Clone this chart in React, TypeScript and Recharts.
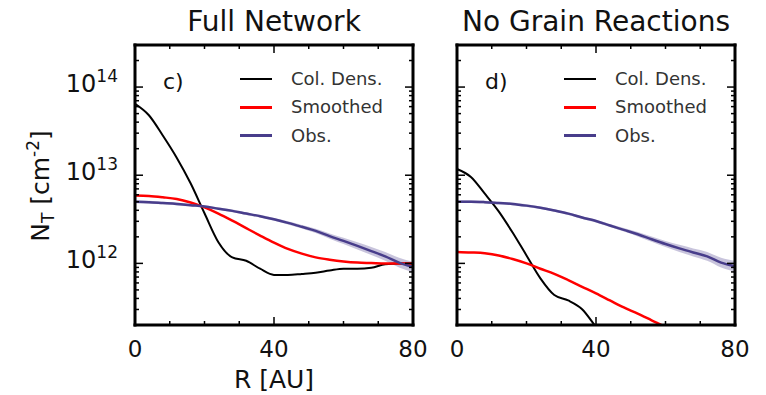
import React from 'react';
import { ComposedChart, Line, Area, XAxis, YAxis, Legend } from 'recharts';

// radius grid in AU, shared by all curves
const radius = [0, 4, 8, 12, 16, 20, 24, 28, 32, 36, 40, 44, 48, 52, 56, 60, 64, 68, 72, 76, 80];

// c) Full Network, column density in cm^-2
const fullColDens = [6.46e13, 4.79e13, 2.82e13, 1.58e13, 8.1e12, 3.7e12, 1.74e12, 1.17e12, 1.07e12, 8.7e11, 7.4e11, 7.4e11, 7.6e11, 7.85e11, 8.3e11, 8.7e11, 8.7e11, 8.9e11, 9.8e11, 1.0e12, 1.0e12];
const fullSmoothed = [5.89e12, 5.82e12, 5.62e12, 5.37e12, 4.9e12, 4.31e12, 3.67e12, 3.05e12, 2.51e12, 2.07e12, 1.72e12, 1.46e12, 1.29e12, 1.17e12, 1.1e12, 1.05e12, 1.02e12, 1.01e12, 1.0e12, 1.0e12, 1.0e12];
const fullObs = [5.01e12, 4.95e12, 4.84e12, 4.73e12, 4.57e12, 4.42e12, 4.17e12, 3.94e12, 3.67e12, 3.43e12, 3.16e12, 2.88e12, 2.6e12, 2.34e12, 2.04e12, 1.8e12, 1.58e12, 1.38e12, 1.2e12, 1.02e12, 9.1e11];
// half width of the shaded obs band, in dex
const fullObsErr = [0.015, 0.015, 0.015, 0.015, 0.015, 0.015, 0.015, 0.015, 0.015, 0.015, 0.015, 0.018, 0.02, 0.025, 0.03, 0.035, 0.04, 0.045, 0.05, 0.055, 0.06];

// d) No Grain Reactions
const noGrainColDens = [1.175e13, 9.55e12, 6.17e12, 3.89e12, 2.24e12, 1.23e12, 6.76e11, 4.37e11, 3.8e11, 3.02e11, 1.9e11, 1.2e11, null, null, null, null, null, null, null, null, null];
const noGrainSmoothed = [1.35e12, 1.33e12, 1.3e12, 1.23e12, 1.12e12, 1.0e12, 8.7e11, 7.6e11, 6.46e11, 5.43e11, 4.57e11, 3.8e11, 3.16e11, 2.69e11, 2.26e11, 1.9e11, 1.58e11, null, null, null, null];
const noGrainObs = [5.01e12, 5.01e12, 4.95e12, 4.84e12, 4.73e12, 4.52e12, 4.27e12, 3.98e12, 3.67e12, 3.31e12, 3.02e12, 2.69e12, 2.4e12, 2.14e12, 1.88e12, 1.66e12, 1.48e12, 1.33e12, 1.2e12, 1.02e12, 9.3e11];
const noGrainObsErr = [0.015, 0.015, 0.015, 0.015, 0.015, 0.015, 0.015, 0.015, 0.015, 0.015, 0.015, 0.018, 0.02, 0.025, 0.03, 0.035, 0.04, 0.045, 0.05, 0.055, 0.06];

const seriesNames = ['Col. Dens.', 'Smoothed', 'Obs.'];
const xTicks = [0, 10, 20, 30, 40, 50, 60, 70, 80];
const xLabels = [0, 40, 80];
const yDecades = [11, 12, 13, 14];
const yDomain = [2e11, 3e14];

const FONT = '"DejaVu Sans", sans-serif';
const BLUE = '#483d8b';

// log minor ticks 2..9 of every decade inside the domain
const yTicks: number[] = [];
yDecades.forEach((d) => {
  for (let m = 1; m <= 9; m++) {
    const v = m * Math.pow(10, d);
    if (v >= yDomain[0] && v <= yDomain[1]) yTicks.push(v);
  }
});

const isDecade = (v: number) => {
  const l = Math.log10(v);
  return Math.abs(l - Math.round(l)) < 1e-6;
};

const buildRows = (colDens: (number | null)[], smoothed: (number | null)[], obs: number[], err: number[]) =>
  radius.map((r, i) => ({
    r,
    colDens: colDens[i],
    smoothed: smoothed[i],
    obs: obs[i],
    band: [obs[i] / Math.pow(10, err[i]), obs[i] * Math.pow(10, err[i])],
  }));

const fullRows = buildRows(fullColDens, fullSmoothed, fullObs, fullObsErr);
const noGrainRows = buildRows(noGrainColDens, noGrainSmoothed, noGrainObs, noGrainObsErr);

const frame = { stroke: '#000', strokeWidth: 3, strokeLinecap: 'square' as const };

function BottomTick(props: any) {
  const { x, y, payload } = props;
  const major = xLabels.includes(payload.value);
  return (
    <g>
      <line x1={x} x2={x} y1={y} y2={y - (major ? 8 : 4)} stroke="#000" strokeWidth={1.5} />
      {major && (
        <text x={x} y={y + 32} textAnchor="middle" fontSize={23} fontFamily={FONT} fill="#111">
          {payload.value}
        </text>
      )}
    </g>
  );
}

function TopTick(props: any) {
  const { x, y, payload } = props;
  const major = xLabels.includes(payload.value);
  return <line x1={x} x2={x} y1={y} y2={y + (major ? 8 : 4)} stroke="#000" strokeWidth={1.5} />;
}

function LeftTick(props: any) {
  const { x, y, payload, showLabel } = props;
  const major = isDecade(payload.value);
  return (
    <g>
      <line x1={x} x2={x + (major ? 8 : 4)} y1={y} y2={y} stroke="#000" strokeWidth={1.5} />
      {showLabel && major && (
        <text x={x - 17} y={y + 5} textAnchor="end" fontSize={24} fontFamily={FONT} fill="#111">
          10
          <tspan dy={-10} fontSize={17}>
            {Math.round(Math.log10(payload.value))}
          </tspan>
        </text>
      )}
    </g>
  );
}

function RightTick(props: any) {
  const { x, y, payload } = props;
  const major = isDecade(payload.value);
  return <line x1={x} x2={x - (major ? 8 : 4)} y1={y} y2={y} stroke="#000" strokeWidth={1.5} />;
}

function renderLegend(props: any) {
  const items = (props.payload || [])
    .filter((p: any) => p.type !== 'none' && seriesNames.includes(p.value))
    .sort((a: any, b: any) => seriesNames.indexOf(a.value) - seriesNames.indexOf(b.value));
  return (
    <div>
      {items.map((p: any) => (
        <div key={p.value} style={{ display: 'flex', alignItems: 'center', height: 28.3 }}>
          <span style={{ display: 'inline-block', width: 32, height: 2.5, background: p.color, marginRight: 19 }} />
          <span style={{ fontFamily: FONT, fontSize: 18, color: '#333', lineHeight: '28px' }}>{p.value}</span>
        </div>
      ))}
    </div>
  );
}

interface PanelProps {
  left: number;
  width: number;
  marginLeft: number;
  marginRight: number;
  yAxisWidth: number;
  rows: any[];
  showYLabels: boolean;
  legendLeft: number;
}

function Panel({ left, width, marginLeft, marginRight, yAxisWidth, rows, showYLabels, legendLeft }: PanelProps) {
  return (
    <div style={{ position: 'absolute', left, top: 0 }}>
      <ComposedChart
        width={width}
        height={395}
        data={rows}
        margin={{ top: 35, bottom: 40, left: marginLeft, right: marginRight }}
      >
        <XAxis
          xAxisId="b"
          dataKey="r"
          type="number"
          domain={[0, 80]}
          ticks={xTicks}
          interval={0}
          height={30}
          tickSize={0}
          tickMargin={0}
          axisLine={frame}
          tickLine={false}
          tick={(p: any) => <BottomTick {...p} />}
          allowDataOverflow
        />
        <XAxis
          xAxisId="t"
          orientation="top"
          dataKey="r"
          type="number"
          domain={[0, 80]}
          ticks={xTicks}
          interval={0}
          height={10}
          tickSize={0}
          tickMargin={0}
          axisLine={frame}
          tickLine={false}
          tick={(p: any) => <TopTick {...p} />}
          allowDataOverflow
        />
        <YAxis
          yAxisId="l"
          type="number"
          scale="log"
          domain={yDomain}
          ticks={yTicks}
          interval={0}
          width={yAxisWidth}
          tickSize={0}
          tickMargin={0}
          axisLine={frame}
          tickLine={false}
          tick={(p: any) => <LeftTick {...p} showLabel={showYLabels} />}
          allowDataOverflow
        />
        <YAxis
          yAxisId="r"
          orientation="right"
          type="number"
          scale="log"
          domain={yDomain}
          ticks={yTicks}
          interval={0}
          width={10}
          tickSize={0}
          tickMargin={0}
          axisLine={frame}
          tickLine={false}
          tick={(p: any) => <RightTick {...p} />}
          allowDataOverflow
        />
        <Area
          xAxisId="b"
          yAxisId="l"
          dataKey="band"
          type="monotone"
          stroke="none"
          fill={BLUE}
          fillOpacity={0.3}
          legendType="none"
          isAnimationActive={false}
        />
        <Line xAxisId="b" yAxisId="l" dataKey="colDens" name={seriesNames[0]} type="monotone" stroke="#000" strokeWidth={2} dot={false} isAnimationActive={false} />
        <Line xAxisId="b" yAxisId="l" dataKey="smoothed" name={seriesNames[1]} type="monotone" stroke="#ff0000" strokeWidth={2.5} dot={false} isAnimationActive={false} />
        <Line xAxisId="b" yAxisId="l" dataKey="obs" name={seriesNames[2]} type="monotone" stroke={BLUE} strokeWidth={2.5} dot={false} isAnimationActive={false} />
        <Legend
          layout="horizontal"
          verticalAlign="middle"
          align="center"
          content={renderLegend}
          wrapperStyle={{ left: legendLeft, top: 65, width: 170, height: 90 }}
        />
      </ComposedChart>
    </div>
  );
}

export default function App() {
  return (
    <div style={{ position: 'absolute', left: 0, top: 0, width: 766, height: 395, background: '#fff' }}>
      <Panel left={0} width={430} marginLeft={75} marginRight={7} yAxisWidth={60} rows={fullRows} showYLabels legendLeft={240} />
      <Panel left={430} width={336} marginLeft={17} marginRight={21} yAxisWidth={10} rows={noGrainRows} showYLabels={false} legendLeft={134} />
      <svg width={766} height={395} style={{ position: 'absolute', left: 0, top: 0, pointerEvents: 'none' }}>
        <g fontFamily={FONT} fill="#111">
          <text x={274} y={31} textAnchor="middle" fontSize={28}>Full Network</text>
          <text x={596} y={31} textAnchor="middle" fontSize={28}>No Grain Reactions</text>
          <text x={163} y={89} fontSize={22}>c)</text>
          <text x={485} y={89} fontSize={22}>d)</text>
          <text x={274} y={388} textAnchor="middle" fontSize={25}>R [AU]</text>
          <text transform="translate(49,186) rotate(-90)" textAnchor="middle" fontSize={25}>
            N
            <tspan dy={5} fontSize={17}>T</tspan>
            <tspan dy={-5}> [cm</tspan>
            <tspan dy={-10} fontSize={17}>-2</tspan>
            <tspan dy={10}>]</tspan>
          </text>
        </g>
      </svg>
    </div>
  );
}
